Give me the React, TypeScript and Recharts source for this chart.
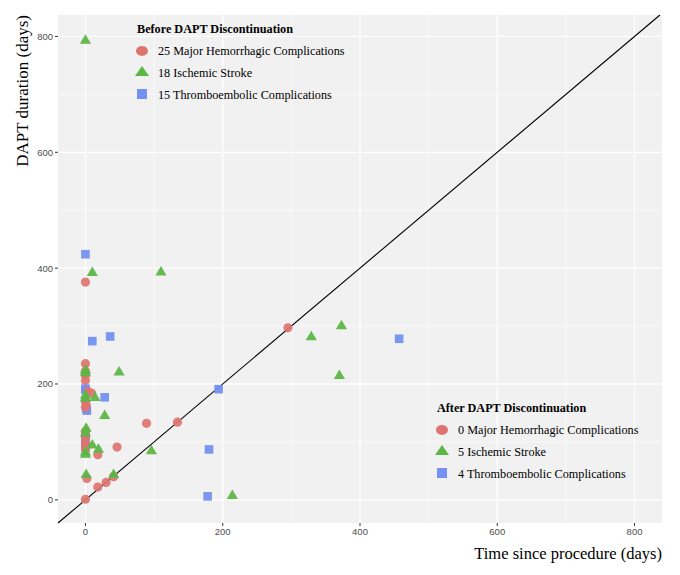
import React from "react";
import {
  ScatterChart,
  Scatter,
  XAxis,
  YAxis,
  CartesianGrid,
  ReferenceLine,
} from "recharts";

// [time since procedure, DAPT duration] in days
const hemorrhagic: [number, number][] = [
  [0, 376], [0, 235], [0, 222], [0, 215], [0, 206], [4, 187], [9, 184],
  [0, 170], [1, 164], [0, 160], [89, 132], [134, 134], [0, 118], [0, 110],
  [0, 102], [0, 92], [0, 86], [18, 78], [46, 91], [2, 37], [41, 40],
  [30, 30], [18, 22], [0, 1], [295, 297],
];

const ischemic: [number, number][] = [
  [0, 793], [10, 392], [110, 393], [0, 223], [0, 219], [49, 220], [14, 176],
  [0, 175], [0, 180], [28, 145], [1, 123], [0, 115], [10, 94], [19, 87],
  [0, 78], [0, 82], [96, 84], [1, 43], [41, 43], [214, 7], [329, 281],
  [373, 300], [370, 214],
];

const thromboembolic: [number, number][] = [
  [0, 424], [10, 274], [36, 282], [0, 190], [0, 192], [28, 177], [2, 154],
  [1, 158], [194, 191], [0, 97], [0, 103], [0, 108], [0, 100], [0, 93],
  [0, 112], [0, 105], [180, 87], [178, 6], [457, 278],
];

const majorTicks = [0, 200, 400, 600, 800];
const minorTicks = [100, 300, 500, 700];

const beforeTitle = "Before DAPT Discontinuation";
const beforeLabels = [
  "25 Major Hemorrhagic Complications",
  "18 Ischemic Stroke",
  "15 Thromboembolic Complications",
];
const afterTitle = "After DAPT Discontinuation";
const afterLabels = [
  "0 Major Hemorrhagic Complications",
  "5 Ischemic Stroke",
  "4 Thromboembolic Complications",
];

const RED = "#DE746F";
const GREEN = "#5DB646";
const BLUE = "#7490F0";

const toPoints = (arr: [number, number][]) => arr.map(([x, y]) => ({ x, y }));

const CircleShape = (p: any) => (
  <circle cx={p.cx} cy={p.cy} r={4.6} fill={RED} fillOpacity={0.92} />
);
const TriangleShape = (p: any) => (
  <polygon
    points={`${p.cx},${p.cy - 6.3} ${p.cx - 5.6},${p.cy + 3.2} ${p.cx + 5.6},${p.cy + 3.2}`}
    fill={GREEN}
    fillOpacity={0.95}
  />
);
const SquareShape = (p: any) => (
  <rect x={p.cx - 4.3} y={p.cy - 4.3} width={8.6} height={8.6} fill={BLUE} fillOpacity={0.95} />
);

const serif = "'Liberation Serif', 'Times New Roman', serif";
const sans = "'Liberation Sans', Arial, sans-serif";

const LegendBlock = ({ x, y, title, labels }: { x: number; y: number; title: string; labels: string[] }) => {
  const rows = [22, 44, 66];
  return (
    <g>
      <text x={x} y={y} fontFamily={serif} fontSize={12.2} fontWeight="bold" fill="#000">
        {title}
      </text>
      <ellipse cx={x + 5} cy={y + rows[0] - 4} rx={6} ry={5} fill={RED} />
      <polygon
        points={`${x + 5},${y + rows[1] - 11} ${x - 2},${y + rows[1] - 1} ${x + 12},${y + rows[1] - 1}`}
        fill={GREEN}
      />
      <rect x={x} y={y + rows[2] - 10} width={10} height={10} fill={BLUE} />
      {labels.map((l, i) => (
        <text key={l} x={x + 21} y={y + rows[i]} fontFamily={serif} fontSize={12.2} fill="#000">
          {l}
        </text>
      ))}
    </g>
  );
};

const tickStyle = { fontSize: 9.5, fill: "#4D4D4D", fontFamily: sans };

export default function App() {
  return (
    <div style={{ position: "absolute", left: 0, top: 0, width: 680, height: 575, background: "#fff" }}>
      <ScatterChart width={680} height={575} margin={{ top: 15, right: 18, bottom: 0, left: 0 }}>
        <CartesianGrid
          fill="#F1F1F1"
          stroke="#FFFFFF"
          strokeWidth={0.6}
          horizontalValues={minorTicks}
          verticalValues={minorTicks}
        />
        <CartesianGrid
          stroke="#FFFFFF"
          strokeWidth={1.3}
          horizontalValues={majorTicks}
          verticalValues={majorTicks}
        />
        <XAxis
          type="number"
          dataKey="x"
          domain={[-40, 840]}
          ticks={majorTicks}
          interval={0}
          allowDataOverflow
          axisLine={false}
          tickSize={3}
          tickMargin={2}
          tickLine={{ stroke: "#333" }}
          tick={tickStyle}
          height={52}
        />
        <YAxis
          type="number"
          dataKey="y"
          domain={[-40, 837]}
          ticks={majorTicks}
          interval={0}
          allowDataOverflow
          axisLine={false}
          tickSize={3}
          tickMargin={2}
          tickLine={{ stroke: "#333" }}
          tick={tickStyle}
          width={58}
        />
        <ReferenceLine
          segment={[{ x: -40, y: -40 }, { x: 837, y: 837 }]}
          stroke="#000"
          strokeWidth={1.1}
        />
        <Scatter data={toPoints(thromboembolic)} shape={SquareShape} isAnimationActive={false} />
        <Scatter data={toPoints(hemorrhagic)} shape={CircleShape} isAnimationActive={false} />
        <Scatter data={toPoints(ischemic)} shape={TriangleShape} isAnimationActive={false} />
      </ScatterChart>
      <svg
        width={680}
        height={575}
        style={{ position: "absolute", left: 0, top: 0, pointerEvents: "none" }}
      >
        <LegendBlock x={137} y={33} title={beforeTitle} labels={beforeLabels} />
        <LegendBlock x={437} y={412} title={afterTitle} labels={afterLabels} />
        <text x={662} y={559} textAnchor="end" fontFamily={serif} fontSize={16.5} fill="#000">
          Time since procedure (days)
        </text>
        <text
          x={0}
          y={0}
          transform="translate(28,15) rotate(-90)"
          textAnchor="end"
          fontFamily={serif}
          fontSize={17}
          fill="#000"
        >
          DAPT duration (days)
        </text>
      </svg>
    </div>
  );
}
